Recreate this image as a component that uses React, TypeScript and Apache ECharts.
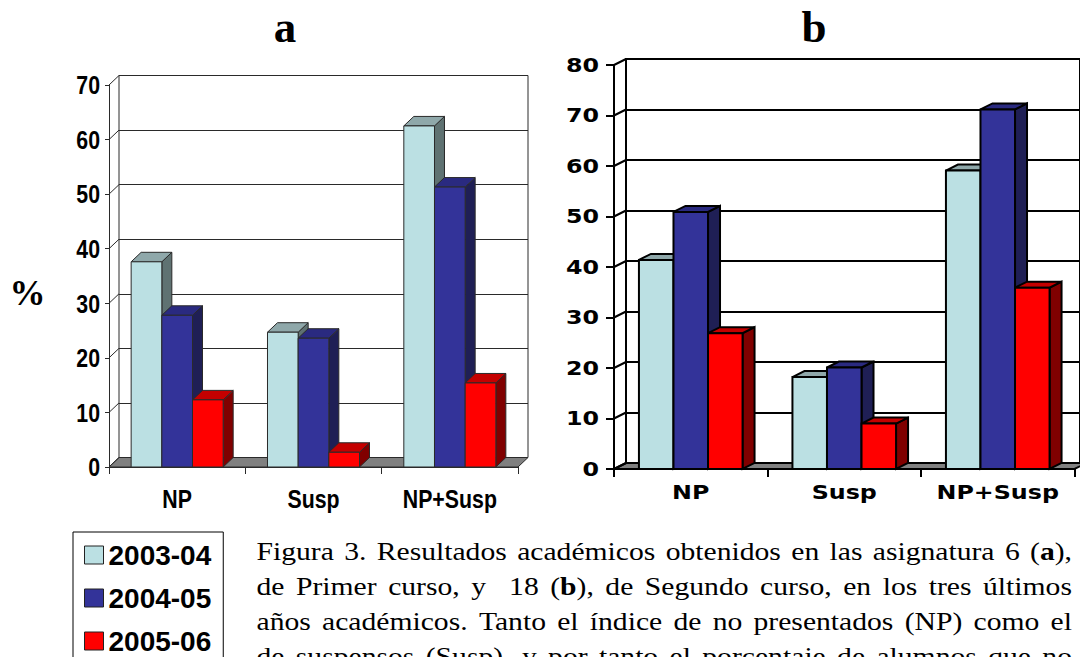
import React, { useEffect, useRef } from 'react';
import * as echarts from 'echarts';

// ---------- data ----------
const categories = ['NP', 'Susp', 'NP+Susp'];
const yearNames = ['2003-04', '2004-05', '2005-06'];

// chart a (asignatura 6)
const a2003 = [37.6, 24.7, 62.5];
const a2004 = [27.8, 23.6, 51.3];
const a2005 = [12.3, 2.7, 15.4];
// chart b (asignatura 18)
const b2003 = [41.4, 18.2, 59.1];
const b2004 = [50.9, 20.1, 71.2];
const b2005 = [26.9, 9.0, 35.9];

const ticksA = [0, 10, 20, 30, 40, 50, 60, 70];
const ticksB = [0, 10, 20, 30, 40, 50, 60, 70, 80];

const captionLines = [
  'Figura 3. Resultados académicos obtenidos en las asignatura 6 (*a*),',
  'de Primer curso, y  18 (*b*), de Segundo curso, en los tres últimos',
  'años académicos. Tanto el índice de no presentados (NP) como el',
  'de suspensos (Susp), y por tanto el porcentaje de alumnos que no',
];

// ---------- styles ----------
const faceColors = [
  { front: '#BBE0E3', top: '#8FA8AA', side: '#5F7272' },
  { front: '#333399', top: '#2A2A80', side: '#1F1F55' },
  { front: '#FF0000', top: '#C40000', side: '#800000' },
];

const BAR_FRAC = 0.225;
const SANS = "'Liberation Sans', Arial, sans-serif";
const WIDE = "'DejaVu Sans', Verdana, sans-serif";
const SERIF = "'Liberation Serif', 'Times New Roman', serif";

type Cfg = {
  dx: number; dy: number; lw: number; stroke: string;
  font: string; fs: number; sx: number; yMargin: number; xLabelY: number;
};
const cfgA: Cfg = { dx: 10, dy: -9.5, lw: 1, stroke: '#2a2a2a', font: SANS, fs: 26, sx: 0.82, yMargin: 9, xLabelY: 32 };
const cfgB: Cfg = { dx: 12, dy: -6, lw: 2, stroke: '#000', font: WIDE, fs: 19, sx: 1.25, yMargin: 15, xLabelY: 23 };

function barRenderer(idx: number, cfg: Cfg) {
  const c = faceColors[idx];
  return (params: any, api: any) => {
    const cat = api.value(0);
    const val = api.value(1);
    const base = api.coord([cat, 0]);
    const top = api.coord([cat, val]);
    const cw = api.size([1, 0])[0];
    const bw = cw * BAR_FRAC;
    const x0 = base[0] - 1.5 * bw + idx * bw;
    const x1 = x0 + bw;
    const ty = top[1];
    const by = base[1];
    const { dx, dy, lw, stroke } = cfg;
    return {
      type: 'group',
      children: [
        {
          type: 'polygon',
          shape: { points: [[x1, ty], [x1 + dx, ty + dy], [x1 + dx, by + dy], [x1, by]] },
          style: { fill: c.side, stroke, lineWidth: lw, lineJoin: 'miter' },
        },
        {
          type: 'polygon',
          shape: { points: [[x0, ty], [x1, ty], [x1 + dx, ty + dy], [x0 + dx, ty + dy]] },
          style: { fill: c.top, stroke, lineWidth: lw, lineJoin: 'miter' },
        },
        {
          type: 'rect',
          shape: { x: x0, y: ty, width: bw, height: by - ty },
          style: { fill: c.front, stroke, lineWidth: lw },
        },
      ],
    };
  };
}

function floorRenderer(cfg: Cfg) {
  return (params: any, api: any) => {
    const cw = api.size([1, 0])[0];
    const l = api.coord([0, 0]);
    const r = api.coord([categories.length - 1, 0]);
    const xl = l[0] - cw / 2;
    const xr = r[0] + cw / 2;
    const y = l[1];
    return {
      type: 'polygon',
      shape: { points: [[xl, y], [xr, y], [xr + cfg.dx, y + cfg.dy], [xl + cfg.dx, y + cfg.dy]] },
      style: { fill: '#808080', stroke: cfg.stroke, lineWidth: cfg.lw },
    };
  };
}

function wallRenderer(cfg: Cfg) {
  return (params: any, api: any) => {
    const cw = api.size([1, 0])[0];
    const p = api.coord([0, api.value(1)]);
    const x = p[0] - cw / 2;
    return {
      type: 'line',
      shape: { x1: x, y1: p[1], x2: x + cfg.dx, y2: p[1] + cfg.dy },
      style: { stroke: cfg.stroke, lineWidth: cfg.lw },
    };
  };
}

// value-axis tick labels, drawn at the axis' own tick positions
function yLabelRenderer(cfg: Cfg) {
  return (params: any, api: any) => {
    const v = api.value(1);
    const cw = api.size([1, 0])[0];
    const p = api.coord([0, v]);
    return {
      type: 'text',
      x: p[0] - cw / 2 - cfg.yMargin,
      y: p[1],
      scaleX: cfg.sx,
      silent: true,
      style: {
        text: String(v), fontFamily: cfg.font, fontWeight: 'bold', fontSize: cfg.fs, fill: '#000',
        align: 'right', verticalAlign: 'middle', textAlign: 'right', textVerticalAlign: 'middle',
      },
    };
  };
}

// category labels under each category
function xLabelRenderer(cfg: Cfg) {
  return (params: any, api: any) => {
    const i = api.value(0);
    const p = api.coord([i, 0]);
    return {
      type: 'text',
      x: p[0],
      y: p[1] + cfg.xLabelY,
      scaleX: cfg.sx,
      silent: true,
      style: {
        text: categories[i], fontFamily: cfg.font, fontWeight: 'bold', fontSize: cfg.fs, fill: '#000',
        align: 'center', verticalAlign: 'middle', textAlign: 'center', textVerticalAlign: 'middle',
      },
    };
  };
}

function measureWidth(text: string, font: string): number {
  const cv = document.createElement('canvas');
  const ctx = cv.getContext('2d');
  if (!ctx) return text.length * 10;
  ctx.font = font;
  return ctx.measureText(text).width;
}

function buildCaption(): any[] {
  const fs = 26;
  const sx = 1.14;
  const left = 256.5;
  const right = 1072;
  const firstY = 551;
  const gapY = 35;
  const els: any[] = [];
  captionLines.forEach((line, li) => {
    const words = line.split(' ');
    const parsed = words.map((w) => {
      const parts = w.split('*');
      const segs = parts
        .map((t, i) => ({ t, bold: i % 2 === 1 }))
        .filter((s) => s.t.length > 0)
        .map((s) => ({
          ...s,
          w: measureWidth(s.t, `${s.bold ? 'bold ' : ''}${fs}px 'Liberation Serif'`) * sx,
        }));
      const width = segs.reduce((acc, s) => acc + s.w, 0);
      return { segs, width };
    });
    const total = parsed.reduce((acc, p) => acc + p.width, 0);
    const gap = (right - left - total) / (parsed.length - 1);
    let x = left;
    const y = firstY + li * gapY;
    parsed.forEach((p) => {
      let sxPos = x;
      p.segs.forEach((s) => {
        els.push({
          type: 'text',
          x: sxPos,
          y,
          scaleX: sx,
          silent: true,
          style: {
            text: s.t,
            fontSize: fs,
            fontFamily: SERIF,
            fontWeight: s.bold ? 'bold' : 'normal',
            fill: '#000',
            align: 'left',
            verticalAlign: 'middle',
            textAlign: 'left',
            textVerticalAlign: 'middle',
          },
        });
        sxPos += s.w;
      });
      x += p.width + gap;
    });
  });
  return els;
}

function buildOption(): any {
  const gridA = { left: 109, top: 85, width: 409, height: 382 };
  const gridB = { left: 614, top: 65, width: 460.5, height: 404 };

  const valueAxisBack = (gi: number, max: number, cfg: Cfg) => ({
    gridIndex: gi, type: 'value', min: 0, max, interval: 10,
    axisLine: { show: false }, axisTick: { show: false }, axisLabel: { show: false },
    splitLine: { show: true, lineStyle: { color: cfg.stroke, width: cfg.lw } },
  });
  const valueAxisFront = (gi: number, max: number, cfg: Cfg, tickLen: number) => ({
    gridIndex: gi, type: 'value', min: 0, max, interval: 10, z: 5,
    axisLine: { show: true, lineStyle: { color: cfg.stroke, width: cfg.lw } },
    axisTick: { show: true, length: tickLen, lineStyle: { color: cfg.stroke, width: cfg.lw } },
    axisLabel: { show: false },
    splitLine: { show: false },
  });
  const catAxisFront = (gi: number, cfg: Cfg, tickLen: number) => ({
    gridIndex: gi, type: 'category', data: categories, z: 5,
    axisLine: { show: true, lineStyle: { color: cfg.stroke, width: cfg.lw } },
    axisTick: { show: true, length: tickLen, alignWithLabel: false, interval: 0, lineStyle: { color: cfg.stroke, width: cfg.lw } },
    axisLabel: { show: false },
    splitLine: { show: false },
  });

  const seriesA = [a2003, a2004, a2005];
  const seriesB = [b2003, b2004, b2005];

  const series: any[] = [];
  const addDecor = (xi: number, ticks: number[], cfg: Cfg, tag: string) => {
    series.push({
      type: 'custom', name: 'floor' + tag, xAxisIndex: xi, yAxisIndex: xi, z: 1, silent: true,
      data: [[0, 0]], renderItem: floorRenderer(cfg),
    });
    series.push({
      type: 'custom', name: 'wall' + tag, xAxisIndex: xi, yAxisIndex: xi, z: 1, silent: true,
      data: ticks.map((v) => [0, v]), renderItem: wallRenderer(cfg),
    });
    series.push({
      type: 'custom', name: 'ylab' + tag, xAxisIndex: xi, yAxisIndex: xi, z: 6, silent: true,
      data: ticks.map((v) => [0, v]), renderItem: yLabelRenderer(cfg),
    });
    series.push({
      type: 'custom', name: 'xlab' + tag, xAxisIndex: xi, yAxisIndex: xi, z: 6, silent: true,
      data: categories.map((c, i) => [i, 0]), renderItem: xLabelRenderer(cfg),
    });
  };
  addDecor(1, ticksA, cfgA, 'A');
  addDecor(3, ticksB, cfgB, 'B');

  yearNames.forEach((name, i) => {
    series.push({
      type: 'custom', name, xAxisIndex: 1, yAxisIndex: 1, z: 2,
      itemStyle: { color: faceColors[i].front },
      data: seriesA[i].map((v, k) => [k, v]),
      renderItem: barRenderer(i, cfgA),
    });
  });
  yearNames.forEach((name, i) => {
    series.push({
      type: 'custom', name, xAxisIndex: 3, yAxisIndex: 3, z: 2,
      itemStyle: { color: faceColors[i].front },
      data: seriesB[i].map((v, k) => [k, v]),
      renderItem: barRenderer(i, cfgB),
    });
  });

  return {
    animation: false,
    backgroundColor: '#fff',
    grid: [
      { left: gridA.left + cfgA.dx, top: gridA.top + cfgA.dy, width: gridA.width, height: gridA.height,
        show: true, backgroundColor: '#fff', borderColor: cfgA.stroke, borderWidth: cfgA.lw },
      { ...gridA },
      { left: gridB.left + cfgB.dx, top: gridB.top + cfgB.dy, width: gridB.width, height: gridB.height,
        show: true, backgroundColor: '#fff', borderColor: cfgB.stroke, borderWidth: cfgB.lw },
      { ...gridB },
    ],
    xAxis: [
      { gridIndex: 0, type: 'category', data: categories, show: false },
      catAxisFront(1, cfgA, 7),
      { gridIndex: 2, type: 'category', data: categories, show: false },
      catAxisFront(3, cfgB, 8),
    ],
    yAxis: [
      valueAxisBack(0, 70, cfgA),
      valueAxisFront(1, 70, cfgA, 4),
      valueAxisBack(2, 80, cfgB),
      valueAxisFront(3, 80, cfgB, 8),
    ],
    legend: {
      data: yearNames,
      orient: 'vertical',
      left: 73,
      top: 532,
      width: 200,
      height: 300,
      icon: 'rect',
      itemWidth: 19,
      itemHeight: 18,
      itemGap: 15,
      padding: [9, 12, 40, 11],
      borderColor: '#000',
      borderWidth: 1,
      backgroundColor: '#fff',
      selectedMode: false,
      itemStyle: { borderColor: '#222', borderWidth: 1 },
      textStyle: { fontFamily: SANS, fontWeight: 'bold', fontSize: 28, color: '#000' },
    },
    graphic: [
      {
        type: 'text', x: 285, y: 27, silent: true,
        style: { text: 'a', fontSize: 45, fontWeight: 'bold', fontFamily: SERIF, fill: '#000',
          align: 'center', verticalAlign: 'middle', textAlign: 'center', textVerticalAlign: 'middle' },
      },
      {
        type: 'text', x: 814, y: 27, silent: true,
        style: { text: 'b', fontSize: 45, fontWeight: 'bold', fontFamily: SERIF, fill: '#000',
          align: 'center', verticalAlign: 'middle', textAlign: 'center', textVerticalAlign: 'middle' },
      },
      {
        type: 'text', x: 27.5, y: 293, silent: true,
        style: { text: '%', fontSize: 36, fontWeight: 'bold', fontFamily: SERIF, fill: '#000',
          align: 'center', verticalAlign: 'middle', textAlign: 'center', textVerticalAlign: 'middle' },
      },
      ...buildCaption(),
    ],
    series,
  };
}

export default function App() {
  const ref = useRef<HTMLDivElement>(null);
  useEffect(() => {
    if (!ref.current) return;
    const chart = echarts.init(ref.current, undefined, { renderer: 'svg' });
    chart.setOption(buildOption());
    return () => chart.dispose();
  }, []);
  return (
    <div
      ref={ref}
      style={{ position: 'absolute', left: 0, top: 0, width: 1080, height: 657, background: '#fff' }}
    />
  );
}
